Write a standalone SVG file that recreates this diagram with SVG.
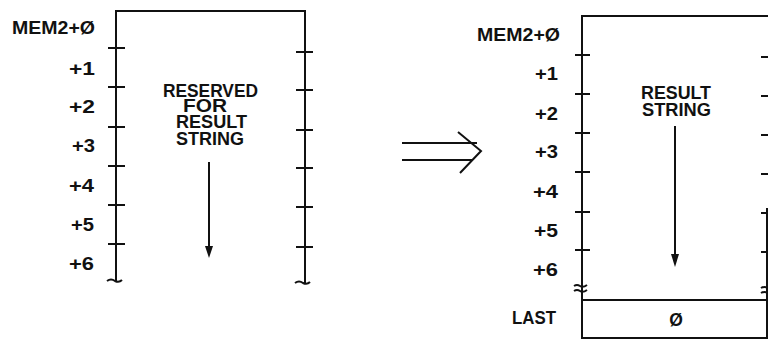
<svg xmlns="http://www.w3.org/2000/svg" width="768" height="339" viewBox="0 0 768 339">
<style>
.ln{stroke:#111;stroke-width:2;fill:none;stroke-linecap:butt}
.tk{stroke:#111;stroke-width:2;fill:none}
.t{font-family:"Liberation Sans",Arial,sans-serif;font-weight:bold;font-size:17.5px;fill:#111}
.e{text-anchor:end}
.m{text-anchor:middle}
.ah{fill:#111;stroke:none}
</style>
<rect width="768" height="339" fill="#fff"/>
<g id="left-memory">
  <path class="ln" d="M116,11 H305 M116,10 V281 M305,10 V283"/>
  <path class="tk" d="M108,48 H125 M108,87 H125 M108,127 H125 M108,166 H125 M108,205 H125 M108,244 H125"/>
  <path class="tk" d="M296,52 H313 M296,90 H313 M296,130 H313 M296,168 H313 M296,207 H313 M296,247 H313"/>
  <path class="ln" stroke-width="1.5" d="M107,281 q4,-3 8,0 q4,2 7,-1 M295,283 q4,-3 8,0 q4,2 7,-1"/>
  <text class="t" x="12" y="34" textLength="83" lengthAdjust="spacingAndGlyphs">MEM2+Ø</text>
  <text class="t e" x="95" y="75" textLength="26" lengthAdjust="spacingAndGlyphs">+1</text>
  <text class="t e" x="95" y="113" textLength="26" lengthAdjust="spacingAndGlyphs">+2</text>
  <text class="t e" x="95" y="152" textLength="23" lengthAdjust="spacingAndGlyphs">+3</text>
  <text class="t e" x="94" y="192" textLength="25" lengthAdjust="spacingAndGlyphs">+4</text>
  <text class="t e" x="94" y="231" textLength="23" lengthAdjust="spacingAndGlyphs">+5</text>
  <text class="t e" x="94" y="270" textLength="25" lengthAdjust="spacingAndGlyphs">+6</text>
  <text class="t" x="163" y="97" textLength="95" lengthAdjust="spacingAndGlyphs">RESERVED</text>
  <text class="t" x="183" y="112" textLength="44" lengthAdjust="spacingAndGlyphs">FOR</text>
  <text class="t" x="176" y="128" textLength="71" lengthAdjust="spacingAndGlyphs">RESULT</text>
  <text class="t" x="176" y="145" textLength="68" lengthAdjust="spacingAndGlyphs">STRING</text>
</g>
<g id="right-memory">
  <path class="ln" d="M582,16 H768 M582,15 V339 M582,300 H768 M582,338 H768 M767,208 V339"/>
  <path class="tk" d="M575,55 H590 M575,94 H590 M575,133 H590 M575,172 H590 M575,212 H590 M575,250 H590"/>
  <path class="tk" d="M761,57 H768 M761,96 H768 M761,135 H768 M761,174 H768 M761,213 H768 M761,252 H768"/>
  <path class="ln" stroke-width="1.5" d="M574,286 q3,-2 6,0 q3,2 7,-1 M574,291 q3,-2 6,0 q3,2 7,-1 M761,288 q3,-2 7,0 M761,293 q3,-2 7,0"/>
  <text class="t" x="477" y="41" textLength="83" lengthAdjust="spacingAndGlyphs">MEM2+Ø</text>
  <text class="t e" x="558" y="80" textLength="23" lengthAdjust="spacingAndGlyphs">+1</text>
  <text class="t e" x="558" y="120" textLength="23" lengthAdjust="spacingAndGlyphs">+2</text>
  <text class="t e" x="558" y="158" textLength="23" lengthAdjust="spacingAndGlyphs">+3</text>
  <text class="t e" x="558" y="198" textLength="25" lengthAdjust="spacingAndGlyphs">+4</text>
  <text class="t e" x="558" y="237" textLength="24" lengthAdjust="spacingAndGlyphs">+5</text>
  <text class="t e" x="558" y="276" textLength="25" lengthAdjust="spacingAndGlyphs">+6</text>
  <text class="t" x="641" y="99" textLength="70" lengthAdjust="spacingAndGlyphs">RESULT</text>
  <text class="t" x="642" y="116" textLength="69" lengthAdjust="spacingAndGlyphs">STRING</text>
  <text class="t" x="512" y="324" textLength="44" lengthAdjust="spacingAndGlyphs">LAST</text>
  <text class="t m" x="676" y="326">Ø</text>
</g>
<g id="connectors">
  <path class="ln" d="M209,162 V248"/>
  <polygon class="ah" points="205,246 213,246 209,258"/>
  <path class="ln" d="M675,126 V256"/>
  <polygon class="ah" points="671,254 679,254 675,267"/>
  <path class="ln" d="M402,143 H477 M402,160 H472 M458,132 L481,151 L460,173"/>
</g>
</svg>
